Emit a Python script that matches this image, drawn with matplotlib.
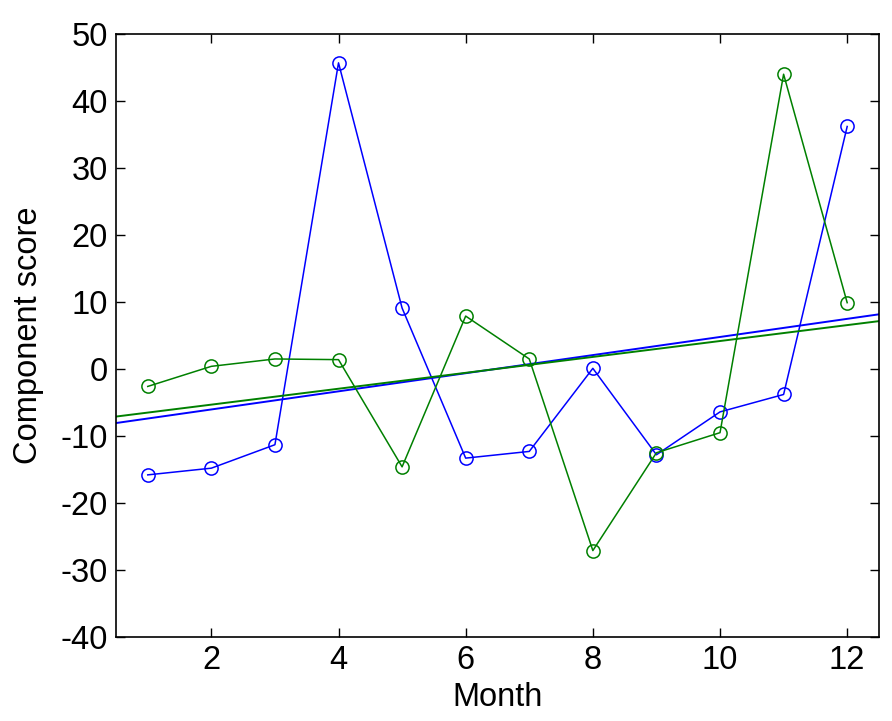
import numpy as np
import matplotlib
matplotlib.use("Agg")
import matplotlib.pyplot as plt

plt.rcParams['font.family'] = ['Liberation Sans', 'DejaVu Sans']
plt.rcParams['axes.unicode_minus'] = False

months = np.arange(1, 13)
score_blue = [-15.8, -14.8, -11.3, 45.7, 9.1, -13.3, -12.3, 0.1, -12.8, -6.4, -3.8, 36.2]
score_green = [-2.6, 0.4, 1.5, 1.4, -14.6, 7.9, 1.5, -27.1, -12.5, -9.5, 44.0, 9.9]

fig = plt.figure(figsize=(8.92, 7.21), dpi=100)
ax = fig.add_axes([0.130, 0.1165, 0.8554, 0.8363])

xfit = np.array([0.5, 12.5])
for y, c in [(score_blue, (0, 0, 1)), (score_green, (0, 0.5, 0))]:
    ax.plot(months, y, '-o', color=c, mfc='none', mec=c, ms=9.5, lw=1.1, mew=1.1)
    k, b = np.polyfit(months, y, 1)
    ax.plot(xfit, k * xfit + b, color=c, lw=1.4)

ax.set_xlim(0.5, 12.5)
ax.set_ylim(-40, 50)
ax.set_xticks([2, 4, 6, 8, 10, 12])
ax.set_yticks(range(-40, 51, 10))
ax.tick_params(direction='in', length=6.5, width=1, labelsize=23.5,
               top=True, right=True, pad=6)
for s in ax.spines.values():
    s.set_linewidth(1.2)
ax.set_xlabel('Month', fontsize=23.5, labelpad=4)
ax.set_ylabel('Component score', fontsize=23.5, labelpad=12)

fig.savefig('out.png', dpi=100)
